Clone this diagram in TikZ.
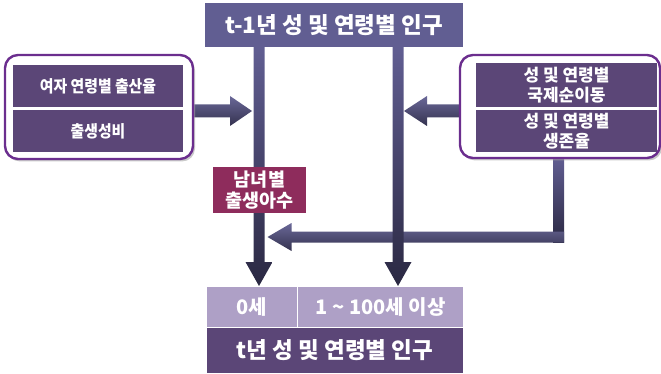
\documentclass[tikz,border=0pt]{standalone}
\usepackage{fontspec}
\usepackage{graphicx}
\setmainfont{Noto Sans CJK KR}
\usetikzlibrary{calc,backgrounds,shadows}
\definecolor{topbox}{HTML}{615E92}
\definecolor{inbox}{HTML}{5B4677}
\definecolor{outline}{HTML}{6B2E8E}
\definecolor{maroon}{HTML}{8E2C5C}
\definecolor{lightbox}{HTML}{AEA0C6}
\definecolor{arrtop}{HTML}{615E92}
\definecolor{arrbot}{HTML}{2A2842}
\definecolor{hartop}{HTML}{6A6898}
\definecolor{harbot}{HTML}{34324F}
\tikzset{
  box/.style={rectangle,inner sep=0pt,outer sep=0pt,text=white,font=\bfseries,align=center},
  outerbox/.style={rectangle,rounded corners=13pt,draw=outline,line width=2.4pt,fill=white,
     drop shadow={shadow xshift=2pt,shadow yshift=-2.5pt,fill=black!35,opacity=0.6}},
  vshade/.style={top color=arrtop,bottom color=arrbot,draw=none},
  hshade/.style={top color=hartop,bottom color=harbot,draw=none},
}
\newcommand\narrowtext[1]{\scalebox{0.9}[1]{#1}}
% fat vertical arrow: start, tip
\newcommand\fatdown[2]{%
  \path[vshade] let \p1=(#1), \p2=(#2) in
   (\x1-5.5pt,\y1) -- (\x1+5.5pt,\y1) -- (\x1+5.5pt,\y2+24pt) -- (\x1+13.5pt,\y2+24pt)
   -- (\x1,\y2) -- (\x1-13.5pt,\y2+24pt) -- (\x1-5.5pt,\y2+24pt) -- cycle;}
% fat horizontal arrow: start, tip, direction (1 right, -1 left), bar half, head half, head length
\newcommand\fathor[6]{%
  \path[hshade] let \p1=(#1), \p2=(#2) in
   (\x1,\y2+#4) -- (\x2-#3*#6,\y2+#4) -- (\x2-#3*#6,\y2+#5) -- (\x2,\y2)
   -- (\x2-#3*#6,\y2-#5) -- (\x2-#3*#6,\y2-#4) -- (\x1,\y2-#4) -- cycle;}
\begin{document}
\begin{tikzpicture}[x=1pt,y=-1pt]
\useasboundingbox (0,0) rectangle (661,374);
% top
\node[box,fill=topbox,minimum width=258pt,minimum height=44pt,font=\bfseries\fontsize{22.5}{26}\selectfont] (top) at (334,25) {t-1년 성 및 연령별 인구};
% left group
\node[outerbox,minimum width=188pt,minimum height=104pt] (lo) at (99,107) {};
\node[box,fill=inbox,minimum width=170pt,minimum height=42pt,font=\bfseries\fontsize{16.5}{19}\selectfont] (l1) at (98,86) {\narrowtext{여자 연령별 출산율}};
\node[box,fill=inbox,minimum width=170pt,minimum height=42pt,font=\bfseries\fontsize{16.5}{19}\selectfont] (l2) at (98,131) {\narrowtext{출생성비}};
% right group
\node[outerbox,minimum width=200pt,minimum height=103pt] (ro) at (560,106.5) {};
\node[box,fill=inbox,minimum width=181pt,minimum height=44pt,font=\bfseries\fontsize{17}{19.5}\selectfont] (r1) at (566.5,85) {성 및 연령별\\국제순이동};
\node[box,fill=inbox,minimum width=181pt,minimum height=42pt,font=\bfseries\fontsize{17}{19.5}\selectfont] (r2) at (566.5,131) {성 및 연령별\\생존율};
% births
\node[box,fill=maroon,minimum width=93pt,minimum height=46pt,font=\bfseries\fontsize{18.5}{20.5}\selectfont] (birth) at (259.5,190) {남녀별\\출생아수};
% bottom
\node[box,fill=lightbox,minimum width=90pt,minimum height=40pt,font=\bfseries\fontsize{20}{23}\selectfont] (zero) at (252,307) {0세};
\node[box,fill=lightbox,minimum width=165pt,minimum height=40pt,font=\bfseries\fontsize{20}{23}\selectfont] (rest) at (380.5,307) {1 \textasciitilde{} 100세 이상};
\node[box,fill=inbox,minimum width=256pt,minimum height=45pt,font=\bfseries\fontsize{22.5}{26}\selectfont] (bot) at (335,350.5) {t년 성 및 연령별 인구};
% helper coordinates
\coordinate (vlx) at (259,0);
\coordinate (vrx) at (398,0);
\coordinate (hy) at (0,111);
\coordinate (ex) at (558.5,237);
\begin{scope}[on background layer]
  % elbow from right group
  \path[vshade] ($(ro.south -| ex)+(-5.5,-2)$) rectangle ($(ex)+(5.5,5.5)$);
  \fathor{$(ex)+(5.5,0)$}{$(vlx |- ex)+(8.5,0)$}{-1}{5.5pt}{14pt}{24pt}
  % vertical arrows
  \fatdown{top.south -| vlx}{$(zero.north -| vlx)+(0,-1)$}
  \fatdown{top.south -| vrx}{$(rest.north -| vrx)+(0,-1)$}
  % side arrows
  \fathor{lo.east |- hy}{$(vlx |- hy)+(-7,0)$}{1}{6.5pt}{15pt}{22pt}
  \fathor{ro.west |- hy}{$(vrx |- hy)+(6,0)$}{-1}{6.5pt}{15pt}{23pt}
\end{scope}
\end{tikzpicture}
\end{document}
